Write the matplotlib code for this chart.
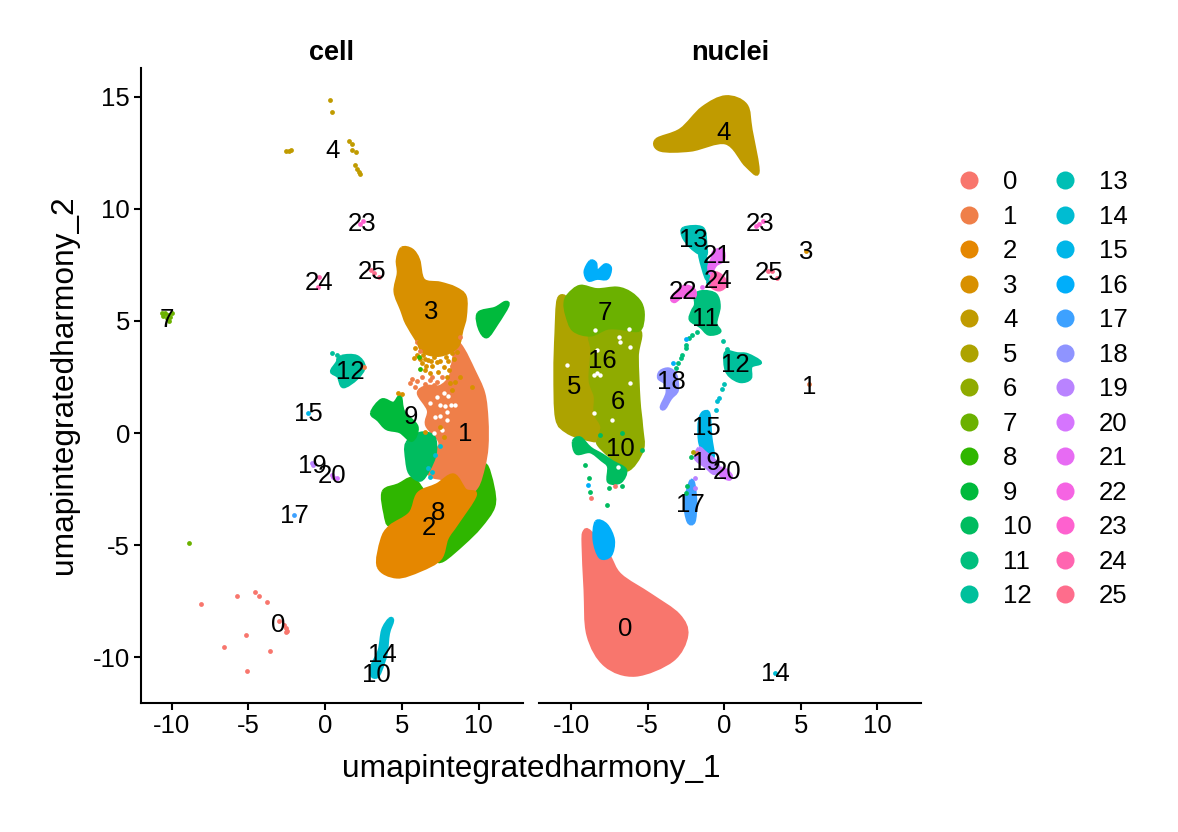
import matplotlib
matplotlib.use("Agg")
import matplotlib.pyplot as plt
from matplotlib.lines import Line2D
from matplotlib.path import Path
from matplotlib.patches import PathPatch

plt.rcParams['font.family'] = ['Liberation Sans', 'DejaVu Sans']
plt.rcParams['axes.unicode_minus'] = False

# ggplot hue palette, 26 clusters
cluster_ids = [str(i) for i in range(26)]
colours = ['#F8766D', '#EF7F49', '#E58700', '#D89000', '#C09B00', '#ADA300', '#8FAB00',
           '#6BB100', '#2FB600', '#00BA3C', '#00BC5F', '#00BF7D', '#00C09C', '#00BFB5',
           '#00BCD2', '#00B6E8', '#00AEFA', '#3DA1FF', '#8F94FF', '#B983FF', '#D575FE',
           '#E76BF3', '#F564E3', '#FE61CF', '#FF65B0', '#FE6D8C']

# cluster outlines, cell panel
cell_3 = [(5.0, 8.24), (5.65, 8.17), (6.09, 7.72), (6.41, 6.83), (7.5, 6.68), (8.48, 6.46), (9.13, 6.08),
          (9.13, 5.19), (8.91, 4.6), (8.59, 3.85), (7.5, 3.48), (6.41, 3.63), (5.98, 4.15), (5.33, 4.89),
          (5.0, 5.49), (4.57, 6.31), (4.78, 7.13), (4.72, 7.72)]
cell_1 = [(8.59, 4.0), (9.02, 3.7), (9.67, 2.81), (10.33, 1.77), (10.54, 0.58), (10.54, -0.61), (10.33, -1.5),
          (9.89, -2.4), (9.13, -2.7), (7.94, -2.1), (6.85, -1.88), (6.74, -1.21), (7.5, -0.46), (6.63, 0.35),
          (6.74, 1.02), (6.09, 1.77), (6.63, 2.07), (7.5, 2.07), (8.15, 2.51), (8.37, 3.26)]
cell_8a = [(10.44, -1.43), (10.93, -2.4), (10.98, -3.29), (10.11, -4.18), (9.02, -4.93), (7.72, -5.67),
           (7.28, -5.6), (7.94, -4.78), (9.24, -3.59), (9.89, -2.4)]
cell_8b = [(3.8, -2.62), (4.78, -2.32), (5.65, -2.03), (6.2, -2.4), (6.41, -2.84), (5.33, -3.59),
           (4.24, -4.11), (3.91, -3.59)]
cell_2 = [(3.48, -5.97), (3.7, -4.78), (4.24, -4.18), (5.54, -3.59), (6.09, -2.7), (7.28, -2.32), (8.37, -1.88),
          (9.13, -2.55), (9.78, -2.77), (8.59, -4.04), (7.94, -4.7), (7.5, -5.6), (6.2, -6.12), (4.67, -6.42)]
cell_10 = [(5.33, -0.46), (6.2, -0.02), (7.07, -0.17), (7.17, -0.91), (6.74, -1.65), (6.2, -2.1),
           (5.54, -1.8), (5.33, -1.21)]
cell_9a = [(3.04, 0.9), (3.7, 1.47), (4.46, 1.32), (4.89, 1.62), (5.11, 0.95), (5.98, 0.28), (5.65, -0.32),
           (4.89, 0.06), (4.02, 0.2), (3.48, 0.58)]
cell_9b = [(10.0, 5.34), (11.09, 5.56), (11.74, 5.82), (11.89, 5.67), (11.2, 4.89), (10.54, 4.3), (10.07, 4.67)]
cell_12 = [(1.08, 3.41), (2.06, 3.41), (2.54, 2.96), (2.06, 2.44), (1.19, 2.07), (0.86, 2.52), (0.43, 2.74),
           (0.76, 3.11)]
cell_14 = [(4.19, -8.32), (4.39, -8.38), (4.12, -8.95), (3.97, -9.84), (3.63, -10.58), (3.37, -10.88),
           (3.04, -10.81), (3.08, -10.36), (3.54, -9.69), (3.76, -8.8)]
cell_shapes = [(8, cell_8a), (8, cell_8b), (1, cell_1), (2, cell_2), (10, cell_10), (9, cell_9a), (9, cell_9b),
               (3, cell_3), (12, cell_12), (14, cell_14)]

# loose points, cell panel
cell_pts_0 = [(-8.07, -7.64), (-5.77, -7.26), (-4.57, -7.09), (-4.31, -7.28), (-3.79, -7.53), (-5.16, -9.02),
              (-6.61, -9.56), (-3.57, -9.73), (-5.07, -10.63), (-3.0, -8.38), (-2.66, -8.59), (-2.57, -8.72),
              (-2.5, -8.83), (-2.55, -8.9)]
cell_pts_1 = [(5.65, 2.39), (5.54, 2.21), (5.87, 2.07), (6.3, 2.51), (6.85, 2.36), (7.28, 2.29), (7.83, 2.14),
              (8.8, 4.3), (5.98, 4.07), (6.2, 3.67), (2.56, 2.95), (6.5, 2.2), (7.0, 2.5), (7.6, 2.5), (8.3, 3.0),
              (8.5, 2.7), (7.1, 2.15), (6.0, 2.3)]
cell_pts_3 = [(6.09, 4.07), (5.87, 3.78), (5.8, 3.33), (6.41, 3.48), (6.3, 3.11), (6.74, 3.26), (6.52, 2.81),
              (6.85, 2.66), (7.28, 3.18), (7.72, 2.96), (8.26, 3.55), (8.59, 3.63), (7.39, 2.74), (7.94, 2.51),
              (8.15, 2.21), (8.48, 2.29), (8.8, 2.51), (8.26, 1.92), (9.57, 2.07), (7.5, 0.28), (6.52, 0.06),
              (7.72, -0.17), (4.78, 1.77), (5.0, 1.74), (6.0, 3.5), (6.6, 3.0), (7.0, 3.0), (7.5, 3.2), (8.0, 3.2),
              (7.1, 3.4), (7.9, 3.4), (8.4, 3.3), (6.5, 3.3), (6.2, 3.3), (8.1, 2.8), (6.9, 3.2)]
cell_pts_4 = [(0.32, 14.87), (0.45, 14.32), (1.58, 13.05), (1.73, 12.9), (1.78, 12.64), (2.02, 12.52), (1.95, 11.95),
              (2.1, 11.77), (2.21, 11.65), (2.28, 11.55), (-2.55, 12.58), (-2.37, 12.59), (-2.24, 12.63)]
cell_pts_7 = [(-10.66, 5.37), (-10.44, 5.34), (-10.22, 5.27), (-10.0, 5.34), (-10.33, 5.12), (-10.16, 5.02),
              (-10.55, 5.2), (-10.11, 5.17), (-8.87, -4.9)]
cell_pts_8 = [(6.2, 2.84), (6.09, 3.4)]
cell_pts_12 = [(0.43, 3.59), (0.76, 3.48), (0.86, 3.29)]
cell_pts_14 = [(7.17, -0.98), (6.74, -1.58), (6.85, -1.95), (7.5, -0.58), (6.96, -1.73)]
cell_pts_15 = [(-1.13, 0.88)]
cell_pts_17 = [(-2.03, -3.66)]
cell_pts_19 = [(-0.87, -1.36), (-0.77, -1.43)]
cell_pts_20 = [(0.43, -1.88), (0.76, -2.0), (0.54, -1.95)]
cell_pts_23 = [(2.28, 9.33), (2.45, 9.45)]
cell_pts_24 = [(-0.37, 6.97), (-0.48, 6.5)]
cell_pts_25 = [(3.0, 7.28), (3.21, 7.13), (3.52, 6.97)]
cell_points = [(0, cell_pts_0), (1, cell_pts_1), (3, cell_pts_3), (4, cell_pts_4), (7, cell_pts_7), (8, cell_pts_8),
               (12, cell_pts_12), (14, cell_pts_14), (15, cell_pts_15), (17, cell_pts_17), (19, cell_pts_19),
               (20, cell_pts_20), (23, cell_pts_23), (24, cell_pts_24), (25, cell_pts_25)]
cell_gaps = [(7.72, 1.77), (8.04, 1.66), (8.48, 1.25), (7.5, 1.25), (7.94, 0.95), (7.17, 0.73), (7.94, 0.58),
             (7.61, 0.13), (7.07, -0.02), (6.85, 1.32), (7.3, 1.6), (7.8, 1.2), (8.2, 1.25), (7.5, 0.75)]

# cluster outlines, nuclei panel
nuc_0 = [(-8.75, -4.42), (-7.57, -5.45), (-6.79, -6.34), (-4.82, -7.23), (-2.98, -8.13), (-2.46, -9.02),
         (-3.38, -10.13), (-5.8, -10.8), (-7.77, -10.36), (-8.89, -9.02), (-9.08, -7.0), (-9.21, -5.0), (-9.15, -4.42)]
nuc_16a = [(-8.36, -3.97), (-7.7, -4.11), (-7.25, -4.78), (-7.44, -5.45), (-8.1, -5.54), (-8.49, -4.78)]
nuc_16b = [(-8.75, 7.65), (-8.42, 7.58), (-8.31, 7.21), (-7.77, 7.5), (-7.44, 7.35), (-7.66, 6.91), (-8.31, 6.91),
           (-8.86, 6.83), (-9.08, 7.21)]
nuc_4 = [(-4.43, 13.08), (-2.85, 13.53), (-1.41, 14.51), (0.1, 15.0), (1.41, 14.64), (1.74, 13.53), (2.2, 11.65),
         (1.41, 11.96), (0.1, 12.95), (-2.2, 12.63), (-4.16, 12.63)]
nuc_5 = [(-10.83, 5.97), (-10.28, 5.97), (-10.28, 5.05), (-9.84, 4.6), (-8.75, 4.38), (-8.64, 3.71), (-8.75, 2.37),
         (-8.42, 1.63), (-8.42, 0.88), (-7.99, 0.29), (-8.2, -0.31), (-9.19, -0.23), (-10.28, 0.06), (-10.94, 0.66),
         (-11.05, 2.67), (-10.98, 4.45)]
nuc_6 = [(-8.75, 4.38), (-7.66, 4.68), (-5.58, 4.6), (-5.69, 3.41), (-5.58, 1.48), (-5.41, 0.29), (-5.36, -0.76),
         (-6.35, -1.65), (-7.44, -1.05), (-8.2, -0.53), (-8.2, -0.31), (-7.99, 0.29), (-8.42, 0.88), (-8.42, 1.63),
         (-8.75, 2.37), (-8.64, 3.71)]
nuc_7 = [(-10.17, 6.16), (-9.41, 6.54), (-8.31, 6.39), (-7.0, 6.46), (-6.13, 6.24), (-5.47, 5.79), (-5.3, 5.2),
         (-5.58, 4.6), (-6.78, 4.68), (-7.66, 4.68), (-8.75, 4.38), (-9.84, 4.6), (-10.28, 5.27), (-10.39, 5.79)]
nuc_10 = [(-9.84, -0.38), (-9.41, -0.23), (-8.75, -0.68), (-7.99, -0.98), (-7.33, -1.28), (-6.46, -1.65),
          (-6.78, -2.17), (-7.55, -2.17), (-7.55, -1.5), (-7.99, -1.2), (-8.75, -0.83), (-9.63, -0.9)]
nuc_11 = [(-1.87, 6.17), (-1.32, 6.31), (-0.56, 6.17), (-0.34, 5.64), (-0.56, 4.9), (-0.3, 4.53), (-1.0, 4.42),
          (-1.54, 4.75), (-2.2, 5.05), (-2.09, 5.42), (-1.87, 5.72)]
nuc_12 = [(0.1, 3.59), (0.86, 3.53), (1.52, 3.49), (2.35, 3.15), (1.74, 2.97), (1.69, 2.45), (1.08, 2.3),
          (0.43, 2.52), (0.1, 2.89)]
nuc_13 = [(-2.63, 9.14), (-1.43, 9.14), (-1.21, 8.4), (-1.21, 7.95), (-1.65, 8.03), (-2.2, 8.32), (-2.68, 8.77)]
nuc_13_tail = [(-1.6, 7.95), (-1.25, 7.9), (-1.0, 6.95), (-1.2, 6.95)]
nuc_15 = [(-1.32, 0.93), (-1.0, 0.84), (-0.89, -0.16), (-0.73, -1.05), (-1.21, -0.9), (-1.58, -0.46), (-1.65, 0.29),
          (-1.54, 0.73)]
nuc_17 = [(-2.15, -2.12), (-1.98, -2.32), (-1.87, -3.14), (-1.98, -3.95), (-2.35, -3.95), (-2.57, -3.14), (-2.35, -2.47)]
nuc_18 = [(-4.16, 2.74), (-3.62, 2.85), (-3.18, 2.59), (-3.07, 1.92), (-3.51, 1.55), (-3.9, 1.11), (-4.1, 1.18),
          (-3.73, 1.78), (-3.84, 2.22), (-4.27, 2.45)]
nuc_19 = [(-1.65, -0.68), (-1.21, -0.9), (-0.67, -1.2), (-0.34, -1.57), (-0.67, -1.8), (-1.21, -1.5), (-1.87, -1.13)]
nuc_20 = [(-0.12, -1.57), (0.43, -1.87), (0.32, -2.06), (-0.23, -1.87)]
nuc_21 = [(-0.67, 8.1), (-0.12, 8.17), (-0.06, 7.73), (-0.56, 7.5), (-0.89, 7.13), (-1.0, 7.43), (-0.78, 7.8)]
nuc_22 = [(-3.4, 6.06), (-2.63, 6.54), (-1.98, 6.39), (-1.98, 6.06), (-2.74, 6.09), (-3.25, 5.87)]
nuc_24 = [(-0.67, 7.13), (-0.12, 6.98), (0.1, 6.61), (-0.34, 6.39), (-0.89, 6.61)]
nuc_shapes = [(0, nuc_0), (16, nuc_16a), (16, nuc_16b), (4, nuc_4), (5, nuc_5), (6, nuc_6), (7, nuc_7), (10, nuc_10),
              (11, nuc_11), (12, nuc_12), (13, nuc_13), (13, nuc_13_tail), (15, nuc_15), (17, nuc_17), (18, nuc_18),
              (19, nuc_19), (20, nuc_20), (21, nuc_21), (22, nuc_22), (24, nuc_24)]

# loose points, nuclei panel
nuc_pts_0 = [(-8.69, -2.91), (-7.11, -2.36), (-1.76, -0.9)]
nuc_pts_1 = [(5.54, 2.18)]
nuc_pts_3 = [(5.34, 8.14)]
nuc_pts_5 = [(-2.07, -0.83)]
nuc_pts_10 = [(-9.08, -1.42), (-8.82, -2.02), (-8.77, -2.64), (-7.68, -3.21), (-7.5, -2.47), (-6.67, -2.36),
              (-8.14, -0.09), (-6.67, 0.0), (-5.36, -0.76), (-2.15, -1.07), (-2.46, -2.36), (-2.52, -2.69)]
nuc_pts_11 = [(-1.76, 4.53), (-2.09, 4.38), (-2.31, 4.23), (-2.52, 3.93), (-2.48, 3.78), (-2.74, 3.49), (-2.85, 3.34),
              (-3.03, 3.11), (-3.12, 2.89)]
nuc_pts_12 = [(-0.05, 4.11), (0.16, 3.75)]
nuc_pts_13 = [(-1.04, 6.76), (-0.01, 2.19), (-0.12, 1.97)]
nuc_pts_14 = [(3.3, -10.7), (-0.34, 1.55), (-0.45, 1.45), (-0.56, 1.03)]
nuc_pts_16 = [(-8.93, -2.32), (-2.52, 4.19), (-3.36, 3.11)]
nuc_pts_19 = [(-1.93, -1.99), (-1.91, -2.44)]
nuc_pts_21 = [(-1.43, 6.51)]
nuc_pts_23 = [(2.07, 9.25), (2.5, 9.44), (2.3, 9.35)]
nuc_pts_25 = [(2.83, 7.25), (3.09, 7.25), (3.44, 6.94)]
nuc_points = [(0, nuc_pts_0), (1, nuc_pts_1), (3, nuc_pts_3), (5, nuc_pts_5), (10, nuc_pts_10), (11, nuc_pts_11),
              (12, nuc_pts_12), (13, nuc_pts_13), (14, nuc_pts_14), (16, nuc_pts_16), (19, nuc_pts_19),
              (21, nuc_pts_21), (23, nuc_pts_23), (25, nuc_pts_25)]
nuc_gaps = [(-6.89, 4.3), (-6.78, 4.08), (-8.31, 3.71), (-8.31, 2.67), (-8.53, 2.59), (-10.28, 3.04), (-6.24, 4.63),
            (-6.13, 3.86), (-8.53, 0.88), (-7.33, 0.58), (-8.42, 4.6), (-6.96, -1.5), (-6.13, 2.22), (-8.1, 2.59)]

# cluster labels
cell_labels = {'0': (-3.07, -8.57), '1': (9.13, -0.04), '2': (6.78, -4.24), '3': (6.91, 5.4), '4': (0.46, 12.59),
               '7': (-10.3, 5.04), '8': (7.37, -3.57), '9': (5.6, 0.71), '10': (3.33, -10.8), '12': (1.63, 2.72),
               '14': (3.72, -9.91), '15': (-1.11, 0.85), '17': (-2.02, -3.7), '19': (-0.85, -1.47), '20': (0.46, -1.92),
               '23': (2.41, 9.33), '24': (-0.39, 6.7), '25': (3.07, 7.19)}
nuc_labels = {'0': (-6.46, -8.75), '1': (5.54, 2.05), '3': (5.34, 8.08), '4': (-0.03, 13.39), '5': (-9.8, 2.05),
              '6': (-6.98, 1.38), '7': (-7.77, 5.36), '10': (-6.79, -0.71), '11': (-1.21, 5.09), '12': (0.69, 3.04),
              '13': (-2.0, 8.62), '14': (3.31, -10.76), '15': (-1.15, 0.22), '16': (-7.97, 3.21), '17': (-2.2, -3.21),
              '18': (-3.44, 2.28), '19': (-1.15, -1.34), '20': (0.16, -1.74), '21': (-0.49, 7.9), '22': (-2.72, 6.29),
              '23': (2.33, 9.33), '24': (-0.43, 6.79), '25': (2.92, 7.14)}
x_ticks = [-10, -5, 0, 5, 10]
y_ticks = [-10, -5, 0, 5, 10, 15]


def rounded_path(outline):
    # closed catmull-rom curve, goes through every outline point
    n = len(outline)
    verts = [outline[0]]
    codes = [Path.MOVETO]
    for i in range(n):
        p0, p1, p2, p3 = outline[i - 1], outline[i], outline[(i + 1) % n], outline[(i + 2) % n]
        c1 = (p1[0] + (p2[0] - p0[0]) / 6, p1[1] + (p2[1] - p0[1]) / 6)
        c2 = (p2[0] - (p3[0] - p1[0]) / 6, p2[1] - (p3[1] - p1[1]) / 6)
        verts += [c1, c2, p2]
        codes += [Path.CURVE4, Path.CURVE4, Path.CURVE4]
    return Path(verts, codes)


def draw_panel(ax, shapes, gaps, points, labels, title):
    for k, outline in shapes:
        ax.add_patch(PathPatch(rounded_path(outline), fc=colours[k], ec=colours[k], lw=2.5, zorder=2))
    ax.scatter([p[0] for p in gaps], [p[1] for p in gaps], s=10, c='white', lw=0, zorder=3)
    for k, pts in points:
        ax.scatter([p[0] for p in pts], [p[1] for p in pts], s=12, c=colours[k], lw=0, zorder=4)
    for name, (x, y) in labels.items():
        ax.text(x, y, name, fontsize=18.5, ha='center', va='center', zorder=5)
    ax.set_title(title, fontsize=19.5, fontweight='bold', pad=6)
    ax.set_xticks(x_ticks)
    ax.set_ylim(-12.05, 16.29)
    ax.spines['top'].set_visible(False)
    ax.spines['right'].set_visible(False)
    ax.spines['bottom'].set_linewidth(1.5)
    ax.spines['left'].set_linewidth(1.5)
    ax.tick_params(labelsize=18.5, width=1.5, length=5, pad=3)


fig = plt.figure(figsize=(11.78, 8.32), dpi=100)
ax1 = fig.add_axes([141 / 1178, 129 / 832, 382 / 1178, 635 / 832])
ax2 = fig.add_axes([539 / 1178, 129 / 832, 382 / 1178, 635 / 832])

draw_panel(ax1, cell_shapes, cell_gaps, cell_points, cell_labels, 'cell')
draw_panel(ax2, nuc_shapes, nuc_gaps, nuc_points, nuc_labels, 'nuclei')
ax1.set_xlim(-12.0, 12.9)
ax2.set_xlim(-12.1, 12.85)
ax1.set_yticks(y_ticks)
ax2.set_yticks([])
ax2.spines['left'].set_visible(False)

fig.text(531 / 1178, 1 - 769 / 832, 'umapintegratedharmony_1', fontsize=22.8, ha='center', va='center')
fig.text(64 / 1178, 1 - 385 / 832, 'umapintegratedharmony_2', fontsize=22.8, rotation=90, ha='center', va='center')

handles = [Line2D([], [], ls='', marker='o', ms=13, mew=0, color=c) for c in colours]
fig.legend(handles, cluster_ids, ncol=2, frameon=False, fontsize=18.5, loc='upper left',
           bbox_to_anchor=(951 / 1178, 1 - 170 / 832), borderpad=0, borderaxespad=0,
           labelspacing=0.41, handletextpad=0.62, columnspacing=0.61, handlelength=1.4)

fig.savefig('out.png', dpi=100)
